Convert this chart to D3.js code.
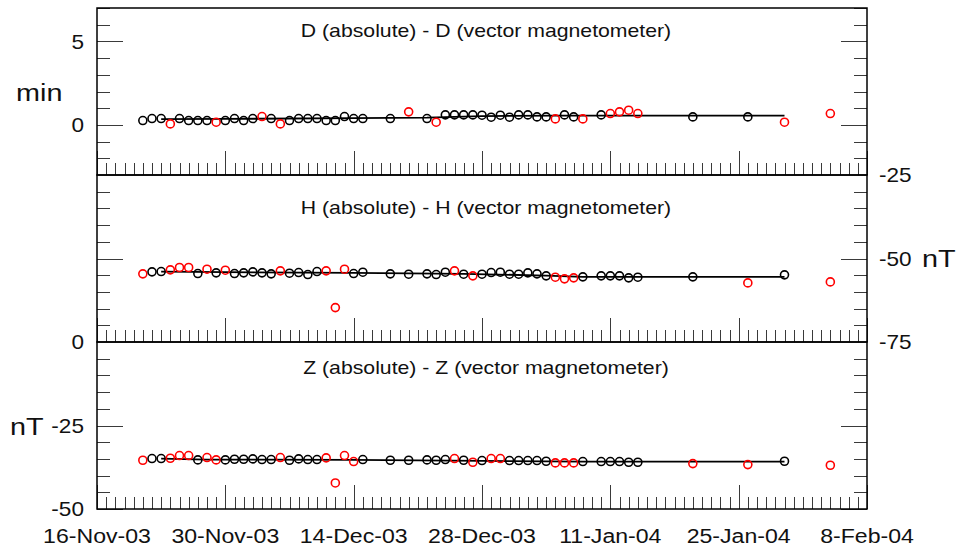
<!DOCTYPE html>
<html><head><meta charset="utf-8">
<script src="https://cdn.jsdelivr.net/npm/d3@7"></script>
<style>body{margin:0;background:#fff} svg{display:block}</style>
</head><body><svg id="chart" width="958" height="548"></svg>
<script>
// ---- DATA ----
const obsDates = [
  "2003-11-21","2003-11-22","2003-11-23","2003-11-24","2003-11-25","2003-11-26","2003-11-27","2003-11-28","2003-11-29","2003-11-30",
  "2003-12-01","2003-12-02","2003-12-03","2003-12-04","2003-12-05","2003-12-06","2003-12-07","2003-12-08","2003-12-09","2003-12-10",
  "2003-12-11","2003-12-12","2003-12-13","2003-12-14","2003-12-15","2003-12-18","2003-12-20",
  "2003-12-22","2003-12-23","2003-12-24","2003-12-25","2003-12-26","2003-12-27","2003-12-28","2003-12-29","2003-12-30","2003-12-31",
  "2004-01-01","2004-01-02","2004-01-03","2004-01-04","2004-01-05","2004-01-06","2004-01-07","2004-01-08",
  "2004-01-10","2004-01-11","2004-01-12","2004-01-13","2004-01-14","2004-01-20","2004-01-26","2004-01-30","2004-02-04"
];
const dValues = [0.26,0.38,0.38,0.06,0.38,0.26,0.26,0.26,0.16,0.26,
  0.38,0.26,0.38,0.50,0.38,0.06,0.26,0.38,0.38,0.38,
  0.26,0.26,0.50,0.38,0.38,0.38,0.78,
  0.38,0.16,0.60,0.60,0.60,0.60,0.58,0.46,0.58,0.46,
  0.60,0.60,0.48,0.48,0.36,0.60,0.48,0.36,
  0.60,0.68,0.78,0.88,0.68,0.48,0.48,0.16,0.68];
const dRejected = [0,0,0,1,0,0,0,0,1,0, 0,0,0,1,0,1,0,0,0,0, 0,0,0,0,0,0,1, 0,1,0,0,0,0,0,0,0,0, 0,0,0,0,1,0,0,1, 0,1,1,1,1,0,0,1,1];
const hValues = [-54.6,-54.0,-53.9,-53.4,-52.7,-52.7,-54.5,-53.2,-54.3,-53.5,
  -54.5,-54.3,-54.0,-54.3,-54.6,-53.7,-54.4,-54.2,-54.8,-53.9,
  -53.7,-64.7,-53.2,-54.5,-54.1,-54.6,-54.7,
  -54.6,-54.8,-54.1,-53.7,-54.7,-55.2,-54.7,-54.2,-54.1,-54.7,
  -54.7,-54.3,-54.6,-55.2,-55.6,-56.1,-55.8,-55.5,
  -55.2,-55.2,-55.2,-55.8,-55.6,-55.5,-57.3,-54.9,-57.0];
const hRejected = [1,0,0,1,1,1,0,1,0,1, 0,0,0,0,0,1,0,0,0,0, 1,1,1,0,0,0,0, 0,0,0,1,0,1,0,0,0,0, 0,0,0,0,1,1,1,0, 0,0,0,0,0,0,1,0,1];
const zValues = [-35.4,-34.9,-34.9,-34.8,-34.0,-34.0,-35.3,-34.6,-35.3,-35.3,
  -35.1,-35.1,-35.0,-35.2,-35.2,-34.6,-35.4,-35.0,-35.2,-35.2,
  -34.7,-42.2,-34.0,-35.8,-35.2,-35.4,-35.4,
  -35.3,-35.4,-35.2,-34.9,-35.4,-36.0,-35.5,-34.9,-34.9,-35.5,
  -35.5,-35.5,-35.5,-35.7,-36.2,-36.2,-36.2,-35.8,
  -35.8,-35.8,-35.8,-36.0,-36.0,-36.4,-36.7,-35.7,-36.9];
const zRejected = [1,0,0,1,1,1,0,1,1,0, 0,0,0,0,0,1,0,0,0,0, 1,1,1,1,0,0,0, 0,0,0,1,0,1,0,1,1,0, 0,0,0,0,1,1,1,0, 0,0,0,0,0,1,1,0,1];

// baselines
const dBaseDates = ["2003-11-23","2003-11-30","2003-12-14","2003-12-22","2003-12-28","2004-01-05","2004-01-30"];
const dBaseValues = [0.34,0.36,0.40,0.43,0.53,0.55,0.56];
const hBaseDates = ["2003-11-23","2003-11-30","2003-12-14","2003-12-26","2004-01-04","2004-01-08","2004-01-30"];
const hBaseValues = [-53.9,-54.1,-54.3,-54.6,-55.1,-55.5,-55.5];
const zBaseDates = ["2003-11-23","2003-11-28","2003-12-14","2003-12-28","2004-01-08","2004-01-30"];
const zBaseValues = [-34.9,-35.2,-35.3,-35.6,-35.8,-35.8];

const xTickDates = ["2003-11-16","2003-11-30","2003-12-14","2003-12-28","2004-01-11","2004-01-25","2004-02-08"];
const xTickLabels = ["16-Nov-03","30-Nov-03","14-Dec-03","28-Dec-03","11-Jan-04","25-Jan-04","8-Feb-04"];
const titles = ["D (absolute) - D (vector magnetometer)","H (absolute) - H (vector magnetometer)","Z (absolute) - Z (vector magnetometer)"];
const dTickLabels = [5, 0];
const hTickLabels = [-25, -50, -75];
const zTickLabels = [0, -25, -50];
const unitLabels = ["min", "nT", "nT"];

// ---- LAYOUT ----
const parse = d3.timeParse("%Y-%m-%d");
const svg = d3.select("#chart");
const FONT = "Liberation Sans, Arial, sans-serif";
const left = 97, right = 867, top0 = 8, ph = 167;
const x = d3.scaleTime().domain([parse(xTickDates[0]), parse(xTickDates[xTickDates.length-1])]).range([left, right]);
const dailyTicks = d3.timeDay.range(parse(xTickDates[0]), d3.timeDay.offset(parse(xTickDates[xTickDates.length-1]), 1));
const majorX = xTickDates.map(parse);

const panels = [
  {title: titles[0], vals: dValues, rej: dRejected, bd: dBaseDates, bv: dBaseValues, domain: [-3, 7], minor: d3.range(-3, 7.01, 1), major: [0, 5],
   leftLabels: dTickLabels, rightLabels: [], titleY: 36.7},
  {title: titles[1], vals: hValues, rej: hRejected, bd: hBaseDates, bv: hBaseValues, domain: [-75, -25], minor: d3.range(-75, -24.9, 5), major: [-75, -50, -25],
   leftLabels: [], rightLabels: hTickLabels, titleY: 214.3},
  {title: titles[2], vals: zValues, rej: zRejected, bd: zBaseDates, bv: zBaseValues, domain: [-50, 0], minor: d3.range(-50, 0.1, 5), major: [-50, -25, 0],
   leftLabels: zTickLabels, rightLabels: [], titleY: 374.3}
];

function stxt(g, tx, ty, str, size, sx, anchor) {
  return g.append("text").attr("transform", `translate(${tx},${ty}) scale(${sx},1)`)
    .attr("text-anchor", anchor).attr("font-family", FONT).attr("font-size", size).attr("fill", "#111").text(str);
}

const dates = obsDates.map(parse);

panels.forEach((p, i) => {
  const pt = top0 + i * ph, pb = pt + ph;
  const y = d3.scaleLinear().domain(p.domain).range([pb, pt]);
  const g = svg.append("g");

  const styleAxis = a => { a.select(".domain").remove(); a.selectAll("line").attr("stroke", "#3a3a3a").attr("stroke-width", 1).attr("shape-rendering", "crispEdges"); a.selectAll("text").remove(); };
  g.append("g").attr("transform", `translate(${left},0)`).call(d3.axisLeft(y).tickValues(p.minor).tickSize(-13)).call(styleAxis);
  g.append("g").attr("transform", `translate(${left},0)`).call(d3.axisLeft(y).tickValues(p.major).tickSize(-26)).call(styleAxis);
  g.append("g").attr("transform", `translate(${right},0)`).call(d3.axisRight(y).tickValues(p.minor).tickSize(-13)).call(styleAxis);
  g.append("g").attr("transform", `translate(${right},0)`).call(d3.axisRight(y).tickValues(p.major).tickSize(-26)).call(styleAxis);
  g.append("g").attr("transform", `translate(0,${pb})`).call(d3.axisBottom(x).tickValues(dailyTicks).tickSize(-12)).call(styleAxis);
  g.append("g").attr("transform", `translate(0,${pb})`).call(d3.axisBottom(x).tickValues(majorX).tickSize(-24)).call(styleAxis);

  g.append("rect").attr("x", left).attr("y", pt).attr("width", right - left).attr("height", ph)
    .attr("fill", "none").attr("stroke", "#000").attr("stroke-width", 1.5);

  stxt(g, 486, p.titleY, p.title, 18, 1.18, "middle");

  p.leftLabels.forEach(v => stxt(g, 84, y(v) + 7.2, String(v), 20, 1.13, "end"));
  p.rightLabels.forEach(v => stxt(g, 879, y(v) + 7.2, String(v), 20, 1.13, "start"));

  const line = d3.line().x(d => x(d[0])).y(d => y(d[1]));
  g.append("path").datum(p.bd.map((d, k) => [parse(d), p.bv[k]])).attr("d", line)
    .attr("fill", "none").attr("stroke", "#000").attr("stroke-width", 1.8);

  g.selectAll("circle.pt").data(p.vals).join("circle").attr("class", "pt")
    .attr("cx", (v, k) => x(dates[k])).attr("cy", v => y(v)).attr("r", 4)
    .attr("fill", "none").attr("stroke", (v, k) => p.rej[k] ? "#ff0000" : "#000").attr("stroke-width", 1.6);
});

const yD = d3.scaleLinear().domain([-3, 7]).range([top0 + ph, top0]);
const yH = d3.scaleLinear().domain([-75, -25]).range([top0 + 2*ph, top0 + ph]);
const yZ = d3.scaleLinear().domain([-50, 0]).range([top0 + 3*ph, top0 + 2*ph]);
stxt(svg, 16, yD(2) + 9, unitLabels[0], 24, 1.2, "start");
stxt(svg, 922, yH(-50) + 8, unitLabels[1], 24, 1.2, "start");
stxt(svg, 10, yZ(-25) + 9, unitLabels[2], 24, 1.2, "start");

majorX.forEach((d, k) => stxt(svg, x(d), 542.7, xTickLabels[k], 21, 1.1, "middle"));
</script>
</body></html>
